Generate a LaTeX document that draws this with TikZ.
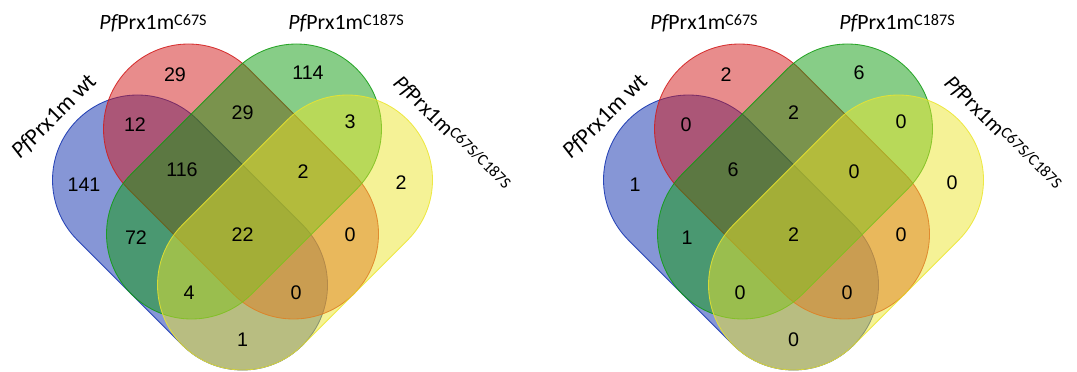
\documentclass[tikz,border=0pt]{standalone}
\usepackage{fontspec}
\setmainfont{Liberation Sans}
\newfontfamily\labelfont{Carlito}
\usepackage{tikz}
\definecolor{vennblue}{RGB}{13,45,173}
\definecolor{vennred}{RGB}{209,25,25}
\definecolor{venngreen}{RGB}{15,155,15}
\definecolor{vennyellow}{RGB}{235,229,45}
\newcommand{\pfprx}{{\itshape Pf}Prx1m}
\newcommand{\mutant}[1]{\raisebox{3.5pt}{\fontsize{11.5}{12}\selectfont #1}}
\tikzset{vennset/.style={fill=#1, draw=#1, fill opacity=0.5, draw opacity=0.85, line width=0.6pt},
         regioncount/.style={font=\fontsize{14}{16}\selectfont, inner sep=0pt},
         setlabel/.style={font=\labelfont\fontsize{15.5}{18}\selectfont, inner sep=0pt}
}

\begin{document}
\begin{tikzpicture}[x=0.025cm,y=-0.025cm]
\useasboundingbox (0,0) rectangle (1077,372);
% two diagrams, the right one shifted by 551
\foreach \dx/\nm in {0/a,551/b}{
  \filldraw[vennset=vennblue] (\dx+137.5,180) ++(135:85) arc[start angle=135, delta angle=180, radius=85]
     -- ++(45:148.5) arc[start angle=-45, delta angle=180, radius=85] -- cycle;
  \filldraw[vennset=vennred] (\dx+188.5,129) ++(135:85) arc[start angle=135, delta angle=180, radius=85]
     -- ++(45:148.5) arc[start angle=-45, delta angle=180, radius=85] -- cycle;
  \filldraw[vennset=venngreen] (\dx+296.5,129) ++(225:85) arc[start angle=225, delta angle=180, radius=85]
     -- ++(135:148.5) arc[start angle=45, delta angle=180, radius=85] -- cycle;
  \filldraw[vennset=vennyellow] (\dx+347.5,180) ++(225:85) arc[start angle=225, delta angle=180, radius=85]
     -- ++(135:148.5) arc[start angle=45, delta angle=180, radius=85] -- cycle;
  \node[setlabel, font=\labelfont\fontsize{16.5}{18}\selectfont, rotate=45, anchor=base west] (wt\nm) at (\dx+20,160) {\pfprx{} wt};
  \node[setlabel, anchor=base] (cys\nm) at (\dx+153,30) {\pfprx\mutant{C67S}};
  \node[setlabel, anchor=base] (cyt\nm) at (\dx+346,30) {\pfprx\mutant{C187S}};
  \node[setlabel, rotate=-45, anchor=base west] (dbl\nm) at (\dx+392,84) {\pfprx\mutant{C67S/C187S}};
}
% region counts: x/y/left/right
\foreach \x/\y/\l/\r [count=\i] in {175/75/29/2, 308/73/114/6, 135/125/12/0, 242.5/113/29/2, 350/122/3/0,
    84/185/141/1, 182/170/116/6, 303/172/2/0, 401/183/2/0, 136/238/72/1, 242.5/235/22/2,
    350/235/0/0, 189/293/4/0, 296/293/0/0, 242.5/340/1/0}{
  \node[regioncount] (a\i) at (\x,\y) {\l};
  \node[regioncount] (b\i) at (\x+551,\y) {\r};
}
\end{tikzpicture}
\end{document}
